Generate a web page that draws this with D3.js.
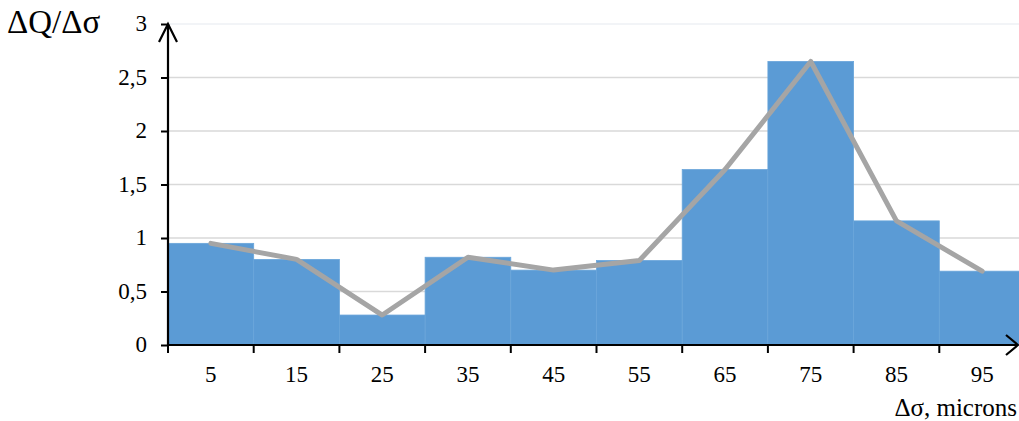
<!DOCTYPE html>
<html>
<head>
<meta charset="utf-8">
<script src="https://cdnjs.cloudflare.com/ajax/libs/d3/7.8.5/d3.min.js"></script>
<style>
  html, body { margin: 0; padding: 0; background: #fff; overflow: hidden; }
  text { font-family: "Liberation Serif", "Times New Roman", serif; fill: #000; }
</style>
</head>
<body>
<svg id="chart" width="1019" height="421"></svg>
<script>
// Size-class centres (microns) and the distribution density for each class
const categories = ["5", "15", "25", "35", "45", "55", "65", "75", "85", "95"];
const densityValues = [0.95, 0.80, 0.28, 0.82, 0.70, 0.79, 1.64, 2.65, 1.16, 0.69];
const yTicks = [0, 0.5, 1, 1.5, 2, 2.5, 3];

const svg = d3.select("#chart");
const plot = { left: 168, right: 1025, top: 24, bottom: 345 };

const x = d3.scaleBand().domain(categories).range([plot.left, plot.right]).padding(0);
const y = d3.scaleLinear().domain([0, 3]).range([plot.bottom, plot.top]);

const fmt = d => String(d).replace(".", ",");
const labelFont = "Liberation Serif";

// horizontal gridlines
svg.append("g")
  .selectAll("line")
  .data(yTicks.filter(d => d > 0))
  .join("line")
  .attr("x1", plot.left).attr("x2", 1019)
  .attr("y1", d => y(d)).attr("y2", d => y(d))
  .attr("stroke", d => d === 3 ? "#eef0f4" : "#d9d9d9")
  .attr("stroke-width", 1.5);

// histogram bars
svg.append("g")
  .selectAll("rect")
  .data(densityValues)
  .join("rect")
  .attr("x", (d, i) => x(categories[i]))
  .attr("width", x.bandwidth())
  .attr("y", d => y(d))
  .attr("height", d => y(0) - y(d))
  .attr("fill", "#5b9bd5")
  .attr("stroke", "#6aa5da")
  .attr("stroke-width", 0.8);

// polygon through class centres
const line = d3.line()
  .x((d, i) => x(categories[i]) + x.bandwidth() / 2)
  .y(d => y(d));
svg.append("path")
  .datum(densityValues)
  .attr("d", line)
  .attr("fill", "none")
  .attr("stroke", "#a5a5a5")
  .attr("stroke-width", 5)
  .attr("stroke-linejoin", "round")
  .attr("stroke-linecap", "round");

// y axis
const yAxis = svg.append("g")
  .attr("transform", `translate(${plot.left},0)`)
  .call(d3.axisLeft(y).tickValues(yTicks).tickFormat(fmt).tickSize(7))
  .attr("font-family", labelFont)
  .attr("font-size", 23);
yAxis.select(".domain").remove();
yAxis.selectAll(".tick line").attr("stroke", "#000").attr("stroke-width", 2);
yAxis.selectAll(".tick text")
  .attr("x", -21)
  .attr("dy", "0.3em");
svg.append("line")
  .attr("x1", plot.left).attr("x2", plot.left)
  .attr("y1", y(0) + 1).attr("y2", y(3))
  .attr("stroke", "#000").attr("stroke-width", 2.2);
svg.append("path")
  .attr("d", `M${plot.left - 9},${y(3) + 18} L${plot.left},${y(3)} L${plot.left + 9},${y(3) + 18}`)
  .attr("fill", "none").attr("stroke", "#000").attr("stroke-width", 2.2);

// x axis
const xAxis = svg.append("g")
  .attr("transform", `translate(0,${y(0)})`)
  .call(d3.axisBottom(x).tickSize(0).tickPadding(0))
  .attr("font-family", labelFont)
  .attr("font-size", 23);
xAxis.select(".domain").remove();
xAxis.selectAll(".tick text")
  .attr("y", 37)
  .attr("dy", 0);
svg.append("g")
  .selectAll("line")
  .data(categories)
  .join("line")
  .attr("x1", d => x(d)).attr("x2", d => x(d))
  .attr("y1", y(0)).attr("y2", y(0) + 8)
  .attr("stroke", "#000").attr("stroke-width", 2);
svg.append("line")
  .attr("x1", plot.left - 1).attr("x2", 1018)
  .attr("y1", y(0)).attr("y2", y(0))
  .attr("stroke", "#000").attr("stroke-width", 2.2);
svg.append("path")
  .attr("d", `M1006,${y(0) - 10} L1018,${y(0)} L1006,${y(0) + 10}`)
  .attr("fill", "none").attr("stroke", "#000").attr("stroke-width", 2.2);

// axis titles
svg.append("text")
  .attr("x", 7).attr("y", 33)
  .style("font-size", "33px")
  .text("ΔQ/Δσ");
svg.append("text")
  .attr("x", 1017).attr("y", 416)
  .attr("text-anchor", "end")
  .style("font-size", "25px")
  .text("Δσ, microns");
</script>
</body>
</html>
